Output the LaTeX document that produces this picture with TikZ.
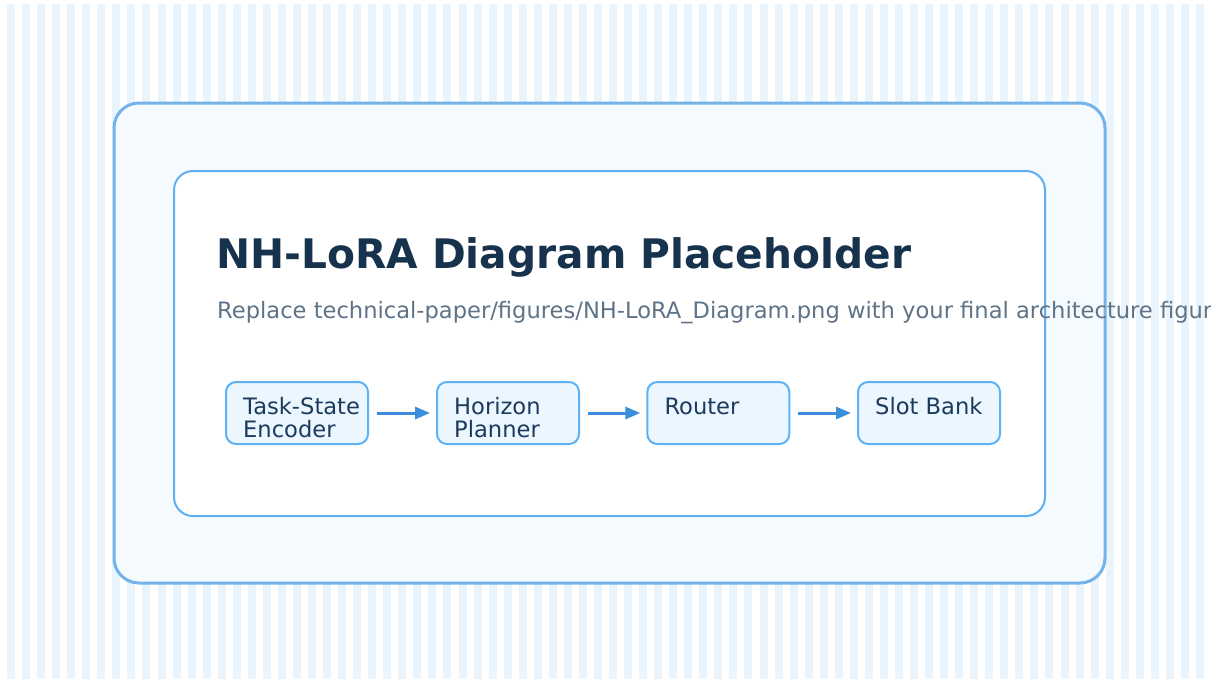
\documentclass[tikz,border=0pt]{standalone}
\usepackage{fontspec}
\setmainfont{DejaVu Sans}
\usepackage{tikz}
\usetikzlibrary{arrows.meta,calc}

\definecolor{stripeblue}{HTML}{EAF4FD}
\definecolor{outerfill}{HTML}{F5FAFF}
\definecolor{outerline}{HTML}{74B3EA}
\definecolor{innerline}{HTML}{5EAFF2}
\definecolor{stepfill}{HTML}{EBF6FF}
\definecolor{stepline}{HTML}{5DB2F5}
\definecolor{titleblue}{HTML}{17324D}
\definecolor{subgray}{HTML}{5E7388}
\definecolor{steptextblue}{HTML}{1B3A5C}
\definecolor{arrowblue}{HTML}{3A8EDC}

\begin{document}
\begin{tikzpicture}[
  x=1pt, y=-1pt,
  >={Triangle[length=15pt, width=12pt]},
  stepbox/.style={draw=stepline, fill=stepfill, line width=2pt, rounded corners=10pt, minimum width=142pt, minimum height=62pt, inner sep=0pt},
  steptext/.style={font=\fontsize{22.6}{23.3}\selectfont, text=steptextblue, align=left, inner sep=0pt, anchor=base west},
  arr/.style={->, draw=arrowblue, line width=3pt, shorten <=8pt, shorten >=6pt}
]
\useasboundingbox (0,0) rectangle (1222,681);
% striped backdrop
\foreach \i in {0,...,79}
  \fill[stripeblue] ({7+15.05*\i},4) rectangle ++(8,675);
% frames
\draw[outerline, fill=outerfill, line width=3pt, rounded corners=25pt] (114,103) rectangle (1105,583);
\draw[innerline, fill=white, line width=2pt, rounded corners=19pt] (174,171) rectangle (1045,516);
% heading
\node[anchor=base west, inner sep=0pt, text=titleblue, font=\fontsize{40.7}{48}\selectfont\bfseries] (title) at (216,268) {NH-LoRA Diagram Placeholder};
\begin{scope}
  \clip (0,0) rectangle (1210,681);
  \node[anchor=base west, inner sep=0pt, text=subgray, font=\fontsize{22.6}{26}\selectfont] (subtitle) at (217,318.5) {Replace technical-paper/figures/NH-LoRA\_Diagram.png with your final architecture figure.};
\end{scope}
% pipeline
\node[stepbox] (enc) at (297,413) {};
\node[stepbox] (plan) at (508,413) {};
\node[stepbox] (router) at (718.3,413) {};
\node[stepbox] (slots) at (929,413) {};
% base west sits on the last line, so two-line labels go one line lower
\node[steptext] (enc-t) at ($(enc.north west)+(18,56.3)$) {Task-State\\Encoder};
\node[steptext] (plan-t) at ($(plan.north west)+(18,56.3)$) {Horizon\\Planner};
\node[steptext] (router-t) at ($(router.north west)+(18,33)$) {Router};
\node[steptext] (slots-t) at ($(slots.north west)+(18,33)$) {Slot Bank};
\draw[arr] (enc) -- (plan);
\draw[arr] (plan) -- (router);
\draw[arr] (router) -- (slots);
\end{tikzpicture}
\end{document}
